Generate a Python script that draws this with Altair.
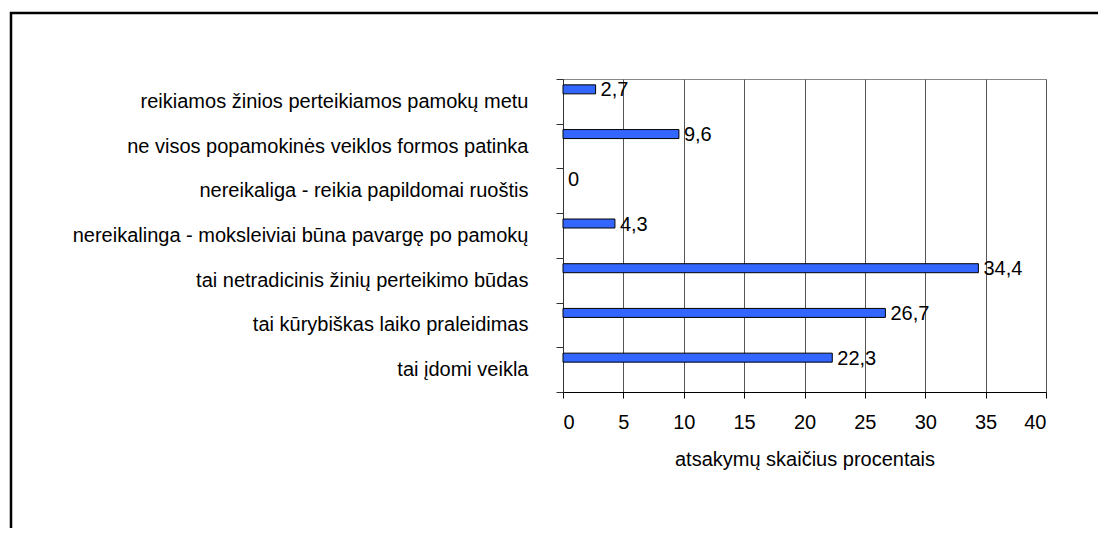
import altair as alt
import pandas as pd

categories = [
    "reikiamos žinios perteikiamos pamokų metu",
    "ne visos popamokinės veiklos formos patinka",
    "nereikaliga - reikia papildomai ruoštis",
    "nereikalinga - moksleiviai būna pavargę po pamokų",
    "tai netradicinis žinių perteikimo būdas",
    "tai kūrybiškas laiko praleidimas",
    "tai įdomi veikla",
]
values = [2.7, 9.6, 0, 4.3, 34.4, 26.7, 22.3]
value_labels = ["2,7", "9,6", "0", "4,3", "34,4", "26,7", "22,3"]
x_ticks = [0, 5, 10, 15, 20, 25, 30, 35, 40]

df = pd.DataFrame({"cat": categories, "val": values, "lab": value_labels})

FONT = "Liberation Sans"

y_enc = alt.Y(
    "cat:N",
    sort=categories,
    scale=alt.Scale(paddingInner=0, paddingOuter=0),
    axis=alt.Axis(
        title=None,
        tickBand="extent",
        tickSize=7,
        tickColor="#333333",
        domainColor="#333333",
        labelPadding=28,
        labelFontSize=20,
        labelFont=FONT,
        labelColor="#000000",
        labelLimit=600,
        grid=False,
    ),
)

x_enc = alt.X(
    "val:Q",
    scale=alt.Scale(domain=[0, 40], nice=False),
    axis=alt.Axis(
        title="atsakymų skaičius procentais",
        values=x_ticks,
        tickSize=6,
        tickColor="#000000",
        domainColor="#000000",
        labelPadding=14,
        labelFontSize=20,
        labelFont=FONT,
        labelColor="#000000",
        titleFont=FONT,
        titleFontSize=20,
        titleFontWeight="normal",
        titleColor="#000000",
        titlePadding=17,
        grid=True,
        gridColor="#555555",
        gridWidth=1,
    ),
)

bars = alt.Chart(df).transform_filter(alt.datum.val > 0).mark_bar(
    size=9, yOffset=-12, color="#3366ff", stroke="#000000", strokeWidth=1
).encode(x=x_enc, y=y_enc)

texts = alt.Chart(df).mark_text(
    align="left", baseline="middle", dx=5, yOffset=-11, fontSize=20, font=FONT, color="#000000"
).encode(x="val:Q", y=alt.Y("cat:N", sort=categories), text="lab:N")

one = pd.DataFrame({"a": [0]})
frame_left = alt.Chart(one).mark_rule(color="#000000", strokeWidth=2.5, clip=False).encode(
    x=alt.value(-552), y=alt.value(-67), y2=alt.value(480)
)
frame_top = alt.Chart(one).mark_rule(color="#000000", strokeWidth=2.5, clip=False).encode(
    x=alt.value(-553), x2=alt.value(540), y=alt.value(-66)
)

chart = alt.layer(frame_left, frame_top, bars, texts).properties(
    width=483,
    height=313,
    autosize=alt.AutoSizeParams(type="none"),
    padding={"left": 555, "top": 71, "right": 52, "bottom": 136},
    background="#ffffff",
).configure_view(stroke="#888888", strokeWidth=1)

chart.save("out.html", embed_options={"renderer": "svg", "actions": False})
